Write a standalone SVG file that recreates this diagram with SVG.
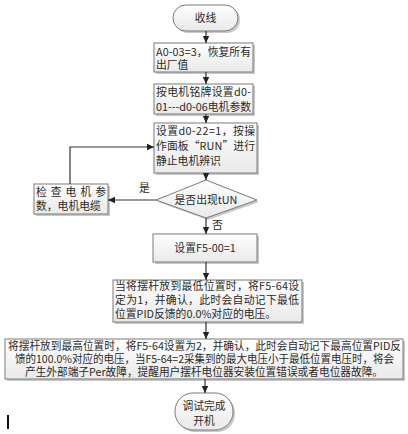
<svg xmlns="http://www.w3.org/2000/svg" width="408" height="434" viewBox="0 0 408 434">
<defs>
<linearGradient id="g" x1="0" y1="0" x2="0" y2="1">
<stop offset="0" stop-color="#ffffff"/>
<stop offset="1" stop-color="#e9e9e9"/>
</linearGradient>
<marker id="ah" markerWidth="8" markerHeight="8" refX="7" refY="4" orient="auto" markerUnits="userSpaceOnUse">
<path d="M0,0.8 L7,4 L0,7.2 Z" fill="#222"/>
</marker>
<style>
.box{fill:url(#g);stroke:#7a7a7a;stroke-width:1}
.sh{fill:#c8c8c8}
.t{font-family:"Noto Sans CJK SC","Noto Sans",sans-serif;font-size:10.8px;fill:#2a2a2a}
.c{text-anchor:middle}
.ln{stroke:#333;stroke-width:1.2;fill:none}
</style>
</defs>
<rect width="408" height="434" fill="#fff"/>

<g id="start">
<rect class="sh" x="175" y="7" width="65" height="26" rx="13"/>
<rect class="box" x="173" y="5" width="65" height="26" rx="13"/>
<text class="t c" x="205.500" y="22">收线</text>
</g>

<g id="n1">
<rect class="sh" x="156" y="45" width="99" height="29"/>
<rect class="box" x="154" y="43" width="99" height="29"/>
<text class="t" x="156" y="56" textLength="95" lengthAdjust="spacing">A0-03=3，恢复所有</text>
<text class="t" x="156" y="69">出厂值</text>
</g>

<g id="n2">
<rect class="sh" x="156" y="86" width="99" height="30"/>
<rect class="box" x="154" y="84" width="99" height="30"/>
<text class="t" x="156" y="96" textLength="95" lengthAdjust="spacing">按电机铭牌设置d0-</text>
<text class="t" x="156" y="111" textLength="95" lengthAdjust="spacing">01---d0-06电机参数</text>
</g>

<g id="n3">
<rect class="sh" x="156" y="125" width="103" height="50"/>
<rect class="box" x="154" y="123" width="103" height="50"/>
<text class="t" x="156" y="135" textLength="99" lengthAdjust="spacing">设置d0-22=1，按操</text>
<text class="t" x="156" y="150" textLength="99" lengthAdjust="spacing">作面板“RUN”进行</text>
<text class="t" x="156" y="165">静止电机辨识</text>
</g>

<g id="decision">
<polygon class="sh" points="208,182 259,202 208,220 158,202"/>
<polygon class="box" points="206,180 257,200 206,218 156,200"/>
<text class="t c" x="206" y="204">是否出现tUN</text>
</g>

<g id="check">
<rect class="sh" x="36" y="186" width="74" height="30"/>
<rect class="box" x="34" y="184" width="74" height="30"/>
<text class="t" x="36" y="196" textLength="70" lengthAdjust="spacing">检查电机参</text>
<text class="t" x="36" y="210">数，电机电缆</text>
</g>

<g id="n4">
<rect class="sh" x="155" y="236" width="104" height="28"/>
<rect class="box" x="153" y="234" width="104" height="28"/>
<text class="t c" x="205" y="252">设置F5-00=1</text>
</g>

<g id="n5">
<rect class="sh" x="115" y="282" width="189" height="42"/>
<rect class="box" x="113" y="280" width="189" height="42"/>
<text class="t" x="115" y="290" textLength="184" lengthAdjust="spacing">当将摆杆放到最低位置时，将F5-64设</text>
<text class="t" x="115" y="304" textLength="184" lengthAdjust="spacing">定为1，并确认，此时会自动记下最低</text>
<text class="t" x="115" y="318">位置PID反馈的0.0%对应的电压。</text>
</g>

<g id="n6">
<rect class="sh" x="7" y="341" width="398" height="40"/>
<rect class="box" x="5" y="339" width="398" height="40"/>
<text class="t" x="8" y="350" textLength="393" lengthAdjust="spacingAndGlyphs">将摆杆放到最高位置时，将F5-64设置为2，并确认，此时会自动记下最高位置PID反</text>
<text class="t" x="15" y="363" textLength="379" lengthAdjust="spacingAndGlyphs">馈的100.0%对应的电压，当F5-64=2采集到的最大电压小于最低位置电压时，将会</text>
<text class="t" x="25" y="376" textLength="358" lengthAdjust="spacingAndGlyphs">产生外部端子Per故障，提醒用户摆杆电位器安装位置错误或者电位器故障。</text>
</g>

<g id="end">
<rect class="sh" x="177" y="395" width="58" height="37" rx="18"/>
<rect class="box" x="175" y="393" width="58" height="37" rx="18"/>
<text class="t c" x="204" y="410">调试完成</text>
<text class="t c" x="204" y="425">开机</text>
</g>

<g id="connectors">
<line class="ln" x1="206" y1="31" x2="206" y2="43" marker-end="url(#ah)"/>
<line class="ln" x1="206" y1="72" x2="206" y2="84" marker-end="url(#ah)"/>
<line class="ln" x1="206" y1="114" x2="206" y2="123" marker-end="url(#ah)"/>
<line class="ln" x1="206" y1="173" x2="206" y2="180" marker-end="url(#ah)"/>
<line class="ln" x1="206" y1="218" x2="206" y2="234" marker-end="url(#ah)"/>
<line class="ln" x1="206" y1="262" x2="206" y2="280" marker-end="url(#ah)"/>
<line class="ln" x1="206" y1="322" x2="206" y2="339" marker-end="url(#ah)"/>
<line class="ln" x1="205" y1="379" x2="205" y2="393" marker-end="url(#ah)"/>
<line class="ln" x1="156" y1="200" x2="108" y2="200" marker-end="url(#ah)"/>
<polyline class="ln" points="70,184 70,147 154,147" marker-end="url(#ah)"/>
<text class="t" x="139" y="192">是</text>
<text class="t" x="212" y="229">否</text>
</g>

<rect x="7" y="415" width="2" height="14" fill="#111"/>
</svg>
